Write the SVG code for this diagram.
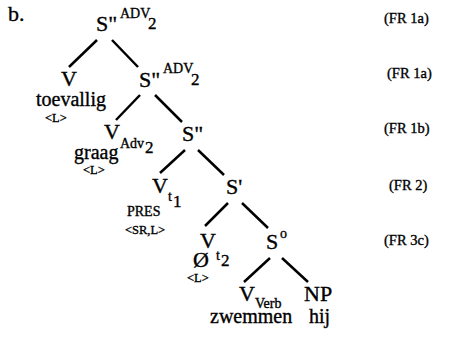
<svg xmlns="http://www.w3.org/2000/svg" width="452" height="338" viewBox="0 0 452 338">
<style>
text{font-family:"Liberation Serif","DejaVu Serif",serif;fill:#000;stroke:#000;stroke-width:0.35}
.n{font-size:22px}
.s{font-size:14px}
.d{font-size:17px}
.w{font-size:20px}
.t{font-size:12.5px}
.fr{font-size:14.5px}
line{stroke:#000;stroke-width:2.5;stroke-linecap:butt}
</style>
<rect width="452" height="338" fill="#fff"/>
<text class="n" x="8" y="21">b.</text>
<g id="connectors">
<line x1="97" y1="40" x2="69" y2="67"/>
<line x1="112" y1="40" x2="138" y2="67"/>
<line x1="140" y1="95" x2="116" y2="120"/>
<line x1="155" y1="95" x2="182" y2="122"/>
<line x1="185" y1="150" x2="160" y2="173"/>
<line x1="198" y1="150" x2="224" y2="175"/>
<line x1="228" y1="203" x2="205" y2="226"/>
<line x1="242" y1="203" x2="268" y2="228"/>
<line x1="270" y1="258" x2="244" y2="282"/>
<line x1="282" y1="258" x2="308" y2="282"/>
</g>
<g id="root"><text class="n" x="96" y="31">S"</text><text class="s" x="120" y="18">ADV</text><text class="d" x="148" y="29">2</text></g>
<g id="v1"><text class="n" x="61" y="86">V</text><text class="w" x="36" y="106">toevallig</text><text class="t" x="45" y="122">&lt;L&gt;</text></g>
<g id="s2"><text class="n" x="139" y="87">S"</text><text class="s" x="163" y="73">ADV</text><text class="d" x="191" y="85">2</text></g>
<g id="vadv"><text class="n" x="104" y="139">V</text><text class="s" x="120" y="148">Adv</text><text class="d" x="145" y="153">2</text><text class="w" x="74" y="159">graag</text><text class="t" x="83" y="174">&lt;L&gt;</text></g>
<g id="s3"><text class="n" x="182" y="141">S"</text></g>
<g id="vt1"><text class="n" x="152" y="193">V</text><text class="s" x="168" y="201">t</text><text class="d" x="173" y="207">1</text><text class="s" x="127" y="216">PRES</text><text class="t" x="125" y="234">&lt;SR,L&gt;</text></g>
<g id="sp"><text class="n" x="226" y="194">S'</text></g>
<g id="vt2"><text class="n" x="200" y="248">V</text><text class="n" x="193" y="267">Ø</text><text class="s" x="216" y="260">t</text><text class="d" x="221" y="266">2</text><text class="t" x="187" y="282">&lt;L&gt;</text></g>
<g id="s0"><text class="n" x="266" y="249">S</text><text class="s" x="280" y="238">o</text></g>
<g id="vverb"><text class="n" x="239" y="301">V</text><text class="s" x="255" y="308">Verb</text><text class="w" x="210" y="323">zwemmen</text></g>
<g id="np"><text class="n" x="304" y="301">NP</text><text class="w" x="309" y="323">hij</text></g>
<g id="fr">
<text class="fr" x="384" y="23">(FR 1a)</text>
<text class="fr" x="387" y="78">(FR 1a)</text>
<text class="fr" x="384" y="133">(FR 1b)</text>
<text class="fr" x="389" y="190">(FR 2)</text>
<text class="fr" x="384" y="245">(FR 3c)</text>
</g>
</svg>
